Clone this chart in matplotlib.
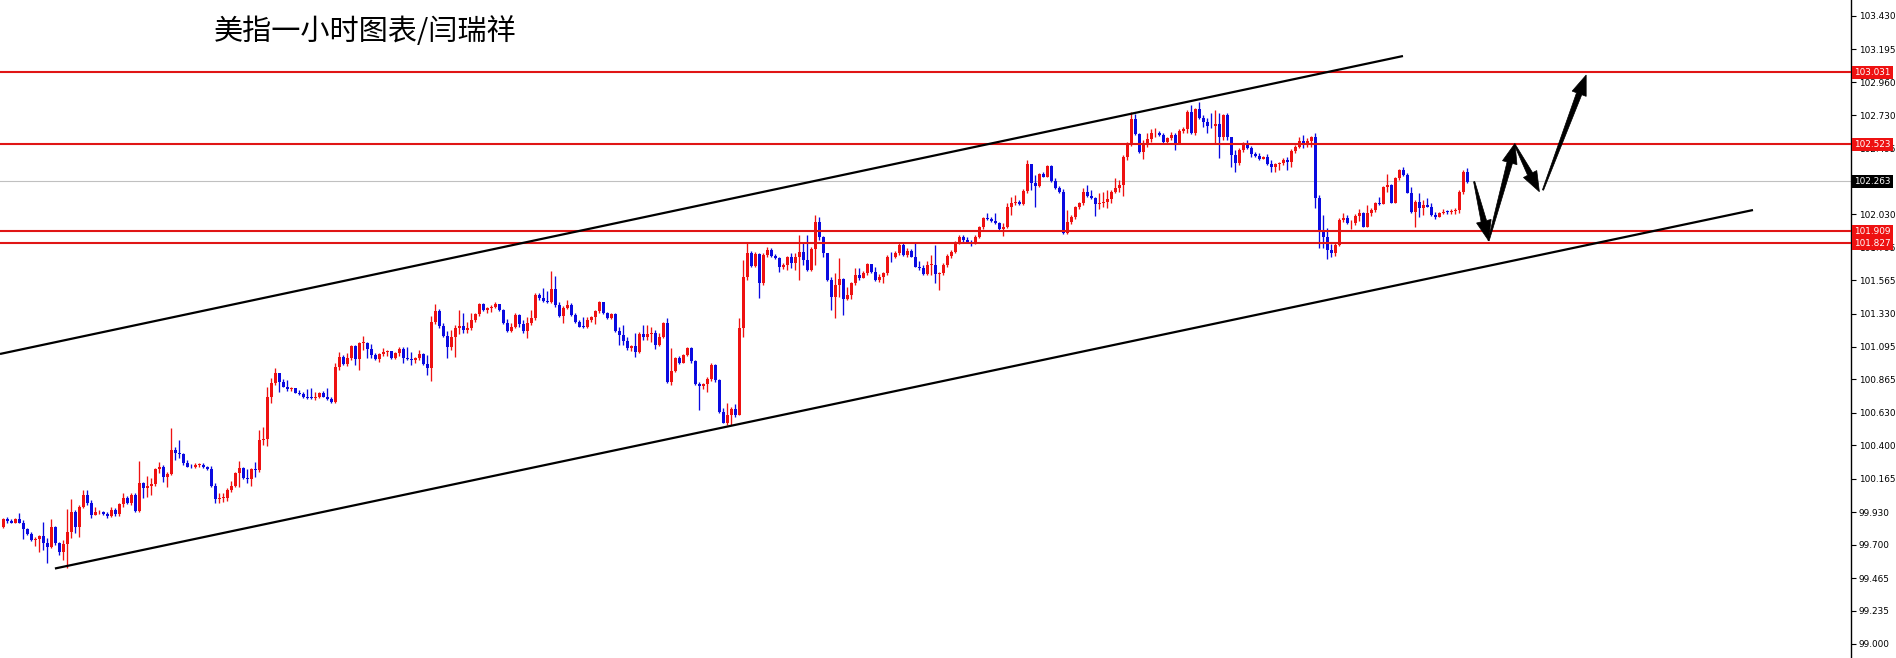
import numpy as np
import matplotlib
matplotlib.use("Agg")
import matplotlib.pyplot as plt
from matplotlib.patches import Polygon
from matplotlib.transforms import IdentityTransform

plt.rcParams['font.family'] = ['Noto Sans CJK SC', 'DejaVu Sans']

title = "美指一小时图表/闫瑞祥"

first_open = 99.822
close = [
    99.879, 99.869, 99.855, 99.881, 99.855, 99.808, 99.775, 99.733, 99.742, 99.761,
    99.709, 99.686, 99.827, 99.709, 99.651, 99.705, 99.792, 99.933, 99.822, 99.968,
    100.053, 99.991, 99.909, 99.928, 99.930, 99.914, 99.902, 99.945, 99.916, 99.984,
    100.031, 99.996, 100.050, 99.938, 100.133, 100.097, 100.116, 100.128, 100.231, 100.250,
    100.180, 100.198, 100.368, 100.349, 100.339, 100.274, 100.250, 100.245, 100.262, 100.262,
    100.245, 100.231, 100.116, 100.020, 100.027, 100.031, 100.086, 100.116, 100.203, 100.243,
    100.168, 100.161, 100.231, 100.224, 100.438, 100.443, 100.739, 100.838, 100.908, 100.850,
    100.814, 100.796, 100.805, 100.772, 100.760, 100.744, 100.737, 100.732, 100.744, 100.772,
    100.744, 100.730, 100.709, 100.955, 101.026, 100.974, 101.014, 101.101, 101.007, 101.120,
    101.125, 101.078, 101.037, 101.007, 101.044, 101.061, 101.068, 101.014, 101.054, 101.082,
    101.014, 101.007, 101.002, 101.014, 101.044, 100.972, 100.943, 101.272, 101.350, 101.242,
    101.171, 101.096, 101.167, 101.225, 101.242, 101.214, 101.225, 101.284, 101.327, 101.397,
    101.355, 101.367, 101.378, 101.397, 101.355, 101.265, 101.207, 101.237, 101.319, 101.256,
    101.209, 101.261, 101.296, 101.461, 101.437, 101.421, 101.414, 101.501, 101.390, 101.312,
    101.371, 101.390, 101.319, 101.272, 101.237, 101.233, 101.284, 101.303, 101.350, 101.414,
    101.331, 101.296, 101.327, 101.209, 101.178, 101.138, 101.084, 101.101, 101.061, 101.185,
    101.167, 101.185, 101.190, 101.108, 101.167, 101.265, 100.849, 100.927, 101.014, 100.983,
    101.037, 101.084, 100.995, 100.833, 100.821, 100.833, 100.866, 100.967, 100.861, 100.638,
    100.560, 100.614, 100.654, 100.614, 101.228, 101.588, 101.755, 101.665, 101.750, 101.543,
    101.743, 101.778, 101.736, 101.719, 101.656, 101.672, 101.726, 101.684, 101.731, 101.766,
    101.708, 101.637, 101.783, 101.978, 101.872, 101.759, 101.566, 101.449, 101.531, 101.571,
    101.432, 101.461, 101.548, 101.602, 101.578, 101.614, 101.679, 101.625, 101.566, 101.590,
    101.614, 101.731, 101.726, 101.759, 101.813, 101.743, 101.773, 101.731, 101.661, 101.649,
    101.609, 101.672, 101.675, 101.609, 101.614, 101.672, 101.736, 101.766, 101.830, 101.867,
    101.849, 101.830, 101.825, 101.872, 101.938, 102.001, 101.994, 101.985, 101.966, 101.924,
    101.943, 102.079, 102.107, 102.119, 102.102, 102.197, 102.385, 102.253, 102.229, 102.314,
    102.295, 102.371, 102.267, 102.213, 102.189, 101.896, 101.978, 102.008, 102.079, 102.107,
    102.189, 102.159, 102.142, 102.102, 102.112, 102.119, 102.135, 102.189, 102.212, 102.236,
    102.436, 102.530, 102.699, 102.596, 102.471, 102.518, 102.558, 102.600, 102.605, 102.589,
    102.542, 102.565, 102.589, 102.535, 102.619, 102.629, 102.753, 102.605, 102.770, 102.706,
    102.683, 102.652, 102.650, 102.666, 102.577, 102.730, 102.572, 102.448, 102.389, 102.483,
    102.525, 102.495, 102.455, 102.441, 102.417, 102.436, 102.384, 102.365, 102.384, 102.394,
    102.412, 102.401, 102.478, 102.506, 102.549, 102.530, 102.549, 102.572, 102.142, 101.919,
    101.872, 101.778, 101.754, 101.813, 101.989, 102.001, 101.966, 101.970, 102.017, 102.041,
    101.942, 102.036, 102.060, 102.111, 102.102, 102.220, 102.236, 102.111, 102.283, 102.342,
    102.306, 102.182, 102.048, 102.118, 102.071, 102.095, 102.083, 102.024, 102.013, 102.041,
    102.048, 102.045, 102.055, 102.060, 102.189, 102.330, 102.259,
]
high = [
    99.886, 99.893, 99.883, 99.888, 99.923, 99.874, 99.815, 99.792, 99.756, 99.768,
    99.857, 99.745, 99.879, 99.832, 99.721, 99.733, 99.952, 100.020, 99.945, 99.980,
    100.086, 100.086, 100.015, 99.968, 99.945, 99.938, 99.933, 99.968, 99.956, 99.996,
    100.067, 100.043, 100.062, 100.062, 100.292, 100.144, 100.184, 100.168, 100.238, 100.285,
    100.262, 100.215, 100.520, 100.386, 100.438, 100.349, 100.297, 100.267, 100.274, 100.274,
    100.274, 100.255, 100.255, 100.137, 100.062, 100.062, 100.097, 100.151, 100.215, 100.290,
    100.250, 100.231, 100.243, 100.281, 100.509, 100.532, 100.810, 100.873, 100.944, 100.908,
    100.866, 100.861, 100.814, 100.803, 100.791, 100.777, 100.796, 100.803, 100.777, 100.779,
    100.786, 100.803, 100.744, 100.984, 101.061, 101.038, 101.049, 101.108, 101.108, 101.132,
    101.172, 101.132, 101.115, 101.049, 101.054, 101.084, 101.073, 101.054, 101.061, 101.091,
    101.096, 101.091, 101.061, 101.026, 101.073, 101.054, 101.035, 101.312, 101.397, 101.364,
    101.261, 101.209, 101.214, 101.249, 101.355, 101.331, 101.272, 101.331, 101.336, 101.406,
    101.402, 101.374, 101.390, 101.414, 101.397, 101.359, 101.289, 101.261, 101.331, 101.327,
    101.284, 101.303, 101.355, 101.477, 101.472, 101.508, 101.491, 101.630, 101.595, 101.414,
    101.383, 101.425, 101.406, 101.331, 101.284, 101.303, 101.303, 101.312, 101.355, 101.421,
    101.414, 101.343, 101.336, 101.331, 101.237, 101.249, 101.162, 101.108, 101.190, 101.202,
    101.249, 101.249, 101.237, 101.214, 101.190, 101.272, 101.296, 101.084, 101.026, 101.030,
    101.044, 101.091, 101.091, 101.002, 100.849, 100.842, 100.885, 100.979, 100.974, 100.866,
    100.661, 100.696, 100.668, 100.692, 101.298, 101.707, 101.825, 101.773, 101.766, 101.755,
    101.755, 101.802, 101.790, 101.750, 101.726, 101.684, 101.736, 101.755, 101.755, 101.884,
    101.825, 101.884, 101.802, 102.025, 102.013, 101.876, 101.755, 101.590, 101.614, 101.719,
    101.578, 101.519, 101.555, 101.649, 101.649, 101.632, 101.689, 101.665, 101.661, 101.609,
    101.625, 101.743, 101.766, 101.773, 101.825, 101.825, 101.790, 101.783, 101.825, 101.703,
    101.672, 101.703, 101.743, 101.813, 101.625, 101.684, 101.750, 101.778, 101.844, 101.884,
    101.884, 101.872, 101.849, 101.884, 101.947, 102.013, 102.041, 102.013, 102.037, 101.978,
    101.966, 102.112, 102.154, 102.166, 102.131, 102.206, 102.413, 102.385, 102.307, 102.323,
    102.331, 102.378, 102.378, 102.284, 102.229, 102.206, 102.060, 102.025, 102.088, 102.119,
    102.213, 102.236, 102.201, 102.149, 102.178, 102.189, 102.201, 102.201, 102.283, 102.271,
    102.448, 102.542, 102.753, 102.737, 102.605, 102.553, 102.600, 102.629, 102.636, 102.619,
    102.605, 102.577, 102.612, 102.600, 102.629, 102.647, 102.765, 102.800, 102.777, 102.824,
    102.730, 102.706, 102.741, 102.765, 102.746, 102.737, 102.746, 102.572, 102.483, 102.495,
    102.542, 102.553, 102.511, 102.471, 102.459, 102.441, 102.455, 102.412, 102.394, 102.401,
    102.424, 102.436, 102.488, 102.518, 102.577, 102.589, 102.565, 102.582, 102.605, 102.165,
    102.024, 101.930, 101.820, 101.836, 102.001, 102.036, 102.024, 101.989, 102.031, 102.064,
    102.048, 102.095, 102.071, 102.118, 102.149, 102.229, 102.314, 102.243, 102.290, 102.346,
    102.361, 102.318, 102.220, 102.130, 102.177, 102.130, 102.142, 102.107, 102.048, 102.048,
    102.064, 102.060, 102.064, 102.071, 102.201, 102.342, 102.354,
]
low = [
    99.815, 99.855, 99.850, 99.850, 99.850, 99.738, 99.768, 99.728, 99.691, 99.651,
    99.663, 99.568, 99.674, 99.698, 99.627, 99.592, 99.533, 99.745, 99.780, 99.756,
    99.956, 99.980, 99.890, 99.909, 99.914, 99.907, 99.886, 99.898, 99.902, 99.902,
    99.963, 99.984, 99.980, 99.933, 99.933, 100.027, 100.039, 100.050, 100.116, 100.203,
    100.144, 100.109, 100.191, 100.297, 100.309, 100.262, 100.245, 100.238, 100.238, 100.245,
    100.238, 100.227, 100.109, 99.992, 99.996, 99.999, 100.010, 100.074, 100.104, 100.109,
    100.161, 100.137, 100.114, 100.180, 100.215, 100.403, 100.396, 100.702, 100.826, 100.779,
    100.810, 100.786, 100.786, 100.767, 100.753, 100.732, 100.730, 100.725, 100.720, 100.732,
    100.739, 100.720, 100.697, 100.702, 100.932, 100.967, 100.960, 101.002, 100.967, 100.932,
    101.073, 101.014, 101.014, 101.002, 100.990, 101.030, 101.030, 101.007, 101.007, 101.030,
    100.983, 101.002, 100.967, 100.979, 101.002, 100.967, 100.896, 100.856, 101.256, 101.225,
    101.162, 101.019, 101.073, 101.026, 101.185, 101.195, 101.195, 101.214, 101.272, 101.312,
    101.350, 101.336, 101.343, 101.367, 101.348, 101.256, 101.200, 101.202, 101.225, 101.237,
    101.190, 101.155, 101.249, 101.284, 101.425, 101.411, 101.406, 101.406, 101.378, 101.303,
    101.265, 101.359, 101.312, 101.261, 101.233, 101.225, 101.225, 101.272, 101.256, 101.336,
    101.327, 101.289, 101.289, 101.202, 101.108, 101.108, 101.073, 101.068, 101.026, 101.049,
    101.143, 101.143, 101.131, 101.077, 101.101, 101.155, 100.842, 100.826, 100.920, 100.974,
    100.979, 101.030, 100.983, 100.826, 100.649, 100.795, 100.779, 100.856, 100.849, 100.631,
    100.555, 100.544, 100.544, 100.602, 100.614, 101.164, 101.566, 101.656, 101.661, 101.437,
    101.531, 101.731, 101.726, 101.712, 101.625, 101.642, 101.637, 101.649, 101.637, 101.566,
    101.672, 101.632, 101.632, 101.672, 101.849, 101.731, 101.562, 101.355, 101.296, 101.449,
    101.320, 101.425, 101.430, 101.531, 101.566, 101.585, 101.602, 101.614, 101.559, 101.555,
    101.543, 101.602, 101.696, 101.719, 101.743, 101.736, 101.731, 101.726, 101.656, 101.637,
    101.602, 101.602, 101.602, 101.543, 101.496, 101.602, 101.661, 101.719, 101.755, 101.820,
    101.837, 101.825, 101.806, 101.820, 101.860, 101.924, 101.990, 101.978, 101.961, 101.914,
    101.877, 101.931, 102.025, 102.095, 102.095, 102.095, 102.182, 102.201, 102.084, 102.220,
    102.291, 102.291, 102.260, 102.206, 102.182, 101.891, 101.891, 101.961, 101.994, 102.065,
    102.095, 102.154, 102.135, 102.018, 102.065, 102.079, 102.072, 102.107, 102.177, 102.189,
    102.158, 102.412, 102.511, 102.589, 102.464, 102.417, 102.502, 102.542, 102.577, 102.582,
    102.535, 102.530, 102.553, 102.483, 102.530, 102.605, 102.600, 102.596, 102.589, 102.699,
    102.647, 102.600, 102.636, 102.530, 102.424, 102.553, 102.553, 102.365, 102.330, 102.377,
    102.471, 102.488, 102.436, 102.436, 102.412, 102.417, 102.377, 102.330, 102.330, 102.342,
    102.377, 102.342, 102.365, 102.459, 102.495, 102.495, 102.506, 102.506, 102.071, 101.789,
    101.789, 101.712, 101.726, 101.735, 101.806, 101.977, 101.961, 101.923, 101.954, 101.981,
    101.937, 101.937, 102.017, 102.048, 102.095, 102.102, 102.189, 102.107, 102.107, 102.271,
    102.299, 102.177, 102.041, 101.937, 102.013, 102.024, 102.078, 102.017, 101.994, 102.008,
    102.031, 102.031, 102.031, 102.031, 102.036, 102.173, 102.252,
]

# horizontal levels
red_levels = [103.031, 102.523, 101.909, 101.827]
current_price = 102.263
y_ticks = [103.430, 103.195, 102.960, 102.730, 102.495, 102.265, 102.030, 101.795,
           101.565, 101.330, 101.095, 100.865, 100.630, 100.400, 100.165, 99.930,
           99.700, 99.465, 99.235, 99.000]
hidden_tick_labels = [102.265]   # fully covered by the current-price box

# channel trend lines (bar index, price)
upper_channel = [(-0.83, 101.045), (349.9, 103.146)]
lower_channel = [(12.9, 99.532), (437.4, 102.060)]

# forecast arrows: (tail, tip) in (bar index, price)
arrows = [
    ((367.7, 102.260), (371.3, 101.844)),
    ((371.3, 101.844), (377.9, 102.530)),
    ((377.9, 102.518), (384.0, 102.189)),
    ((384.9, 102.201), (395.7, 103.012)),
]

# ---------------------------------------------------------------
C = np.array(close)
H = np.array(high)
L = np.array(low)
O = np.r_[first_open, C[:-1]]
assert len(C) == len(H) == len(L)
H = np.maximum(H, np.maximum(O, C))
L = np.minimum(L, np.minimum(O, C))
idx = np.arange(len(C))

W, Hpx = 1896, 658
fig = plt.figure(figsize=(W / 100, Hpx / 100), dpi=100)
fig.patch.set_facecolor('white')
ax = fig.add_axes([0, 0, 1851 / W, 1])
ax.set_xlim(-0.83, 461.9)
ax.set_ylim(98.901, 103.541)

RED = '#EE1111'
BLUE = '#0A0AE0'
up = C >= O
cols = np.where(up, RED, BLUE)

ax.vlines(idx, L, H, colors=cols, linewidth=0.95, zorder=2)
body_lo = np.minimum(O, C)
body_h = np.maximum(np.abs(C - O), 0.006)
ax.bar(idx, body_h, bottom=body_lo, width=0.7, color=cols, linewidth=0, zorder=3)

# levels
ax.axhline(current_price, color='#C0C0C0', linewidth=0.8, zorder=1)
for lv in red_levels:
    ax.axhline(lv, color='#E01515', linewidth=1.5, zorder=4)

# channels
for ln in (upper_channel, lower_channel):
    ax.plot([ln[0][0], ln[1][0]], [ln[0][1], ln[1][1]], color='black', linewidth=1.6,
            zorder=5, solid_capstyle='butt')

# arrows drawn in pixel space
def arrow_poly(t, p, hl=20.0, hw=7.5, sw=2.8, tw=0.6):
    t = np.array(t); p = np.array(p)
    d = p - t
    n_ = np.linalg.norm(d)
    u = d / n_
    nv = np.array([-u[1], u[0]])
    b = p - u * hl
    pts = [t + nv * tw, b + nv * sw, b + nv * hw, p, b - nv * hw, b - nv * sw, t - nv * tw]
    return np.array(pts)

for tail, tip in arrows:
    tp = ax.transData.transform(tail)
    pp = ax.transData.transform(tip)
    poly = Polygon(arrow_poly(tp, pp), closed=True, facecolor='black', edgecolor='black',
                   linewidth=0.5, transform=IdentityTransform(), zorder=6)
    fig.add_artist(poly)

# axes styling
for s in ('left', 'top', 'bottom'):
    ax.spines[s].set_visible(False)
ax.spines['right'].set_linewidth(1.0)
ax.spines['right'].set_color('black')
ax.set_xticks([])
ax.yaxis.tick_right()
ax.set_yticks(y_ticks)
ax.set_yticklabels(["" if v in hidden_tick_labels else f"{v:.3f}" for v in y_ticks])
ax.tick_params(axis='y', direction='out', length=3.5, width=0.8, pad=2,
               labelsize=6.4, colors='black')
for lab in ax.get_yticklabels():
    lab.set_family('DejaVu Sans')

# price boxes
def price_box(val, fc):
    ax.annotate(f"{val:.3f}", xy=(1.0, val), xycoords=('axes fraction', 'data'),
                xytext=(2.2, 0), textcoords='offset points', ha='left', va='center',
                fontsize=6.4, color='white', family='DejaVu Sans', annotation_clip=False,
                bbox=dict(boxstyle='square,pad=0.22', fc=fc, ec='none'), zorder=10)

for lv in red_levels:
    price_box(lv, '#EE1111')
price_box(current_price, 'black')

fig.text(214 / W, 1 - 31.7 / Hpx, title, fontsize=21, va='center', ha='left',
         family=['Noto Sans CJK SC', 'DejaVu Sans'], color='black')

fig.savefig('out.png', dpi=100, facecolor='white')
